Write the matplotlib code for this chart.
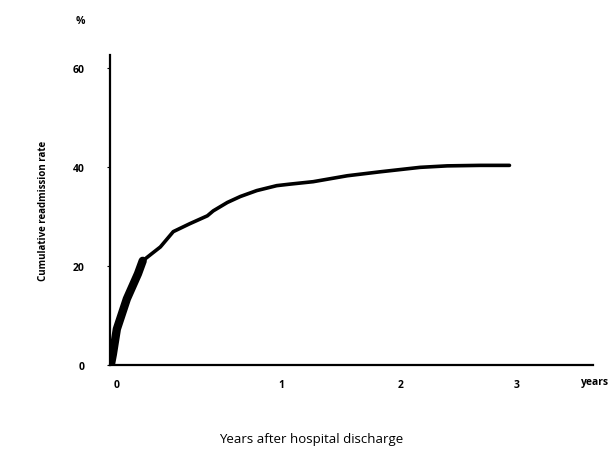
import matplotlib
matplotlib.use("Agg")
import matplotlib.pyplot as plt

# curve (x in axis units, 1 unit = spacing of the year labels)
t = [0.0, 0.01, 0.026, 0.06, 0.145, 0.24, 0.28, 0.36, 0.43, 0.54, 0.68, 0.83, 0.88,
     1.0, 1.11, 1.25, 1.42, 1.53, 1.73, 2.02, 2.30, 2.64, 2.87, 3.15, 3.40]
rate = [0.0, 0.2, 2.2, 7.3, 13.4, 18.5, 21.1, 22.6, 23.9, 27.0, 28.6, 30.2, 31.2,
        32.9, 34.1, 35.3, 36.3, 36.6, 37.1, 38.3, 39.1, 40.0, 40.3, 40.4, 40.4]

xtick_pos = [0.06, 1.46, 2.47, 3.46]
xtick_lab = ["0", "1", "2", "3"]
ytick_pos = [0, 20, 40, 60]

plt.rcParams['font.family'] = ['Open Sans', 'DejaVu Sans']

fig = plt.figure(figsize=(6.1, 4.56), dpi=100)
ax = fig.add_axes([0.180, 0.197, 0.792, 0.680])

ax.plot(t, rate, color="black", lw=2.6, solid_capstyle="round", solid_joinstyle="round")
# early part of the curve is much denser, drawn thicker
ax.plot(t[:7], rate[:7], color="black", lw=6, solid_capstyle="round", solid_joinstyle="round")

ax.set_xlim(0, 4.11)
ax.set_ylim(0, 62.7)

for s in ["top", "right"]:
    ax.spines[s].set_visible(False)
ax.spines["left"].set_linewidth(1.6)
ax.spines["bottom"].set_linewidth(1.6)

ax.set_xticks(xtick_pos)
ax.set_xticklabels(xtick_lab, fontsize=7.5, fontweight="bold")
ax.tick_params(axis="x", length=0, pad=10)
ax.set_yticks(ytick_pos)
ax.set_yticklabels([str(v) for v in ytick_pos], fontsize=7.5, fontweight="bold")
ax.tick_params(axis="y", length=2, width=0.8, pad=16)

ax.set_ylabel("Cumulative readmission rate", fontsize=7, fontweight="bold")
ax.yaxis.set_label_coords(-0.125, 0.5)

fig.text(80 / 610, 1 - 22 / 456, "%", fontsize=7.5, fontweight="bold", ha="center", va="center")
fig.text(581 / 610, 1 - 383 / 456, "years", fontsize=7.5, fontweight="bold", ha="left", va="center")
fig.text(311 / 610, 1 - 440 / 456, "Years after hospital discharge", fontsize=9.5,
         ha="center", va="center")

fig.savefig("out.png", dpi=100)
